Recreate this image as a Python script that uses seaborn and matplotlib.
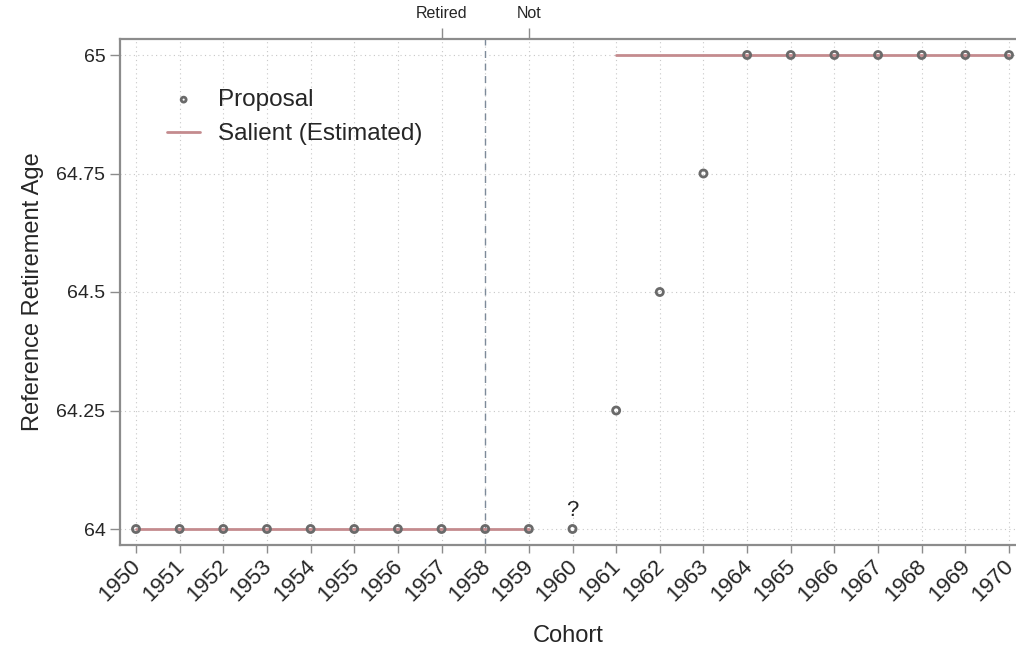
import numpy as np
import pandas as pd
import seaborn as sns
import matplotlib
matplotlib.use('Agg')
import matplotlib.pyplot as plt

# Data.
cohorts = list(range(1950, 1971))
proposal_age = [64] * 11 + [64.25, 64.5, 64.75] + [65] * 7
salient_early_cohorts = list(range(1950, 1960))
salient_early_age = [64] * 10
salient_late_cohorts = list(range(1961, 1971))
salient_late_age = [65] * 10
ytick_values = [64, 64.25, 64.5, 64.75, 65]
ytick_labels = ['64', '64.25', '64.5', '64.75', '65']
top_tick_values = [1957, 1959]
top_tick_labels = ['Retired', 'Not']
cutoff_cohort = 1958

proposal = pd.DataFrame({'cohort': cohorts, 'age': proposal_age})
salient_early = pd.DataFrame({'cohort': salient_early_cohorts, 'age': salient_early_age})
salient_late = pd.DataFrame({'cohort': salient_late_cohorts, 'age': salient_late_age})

sns.set_style('white')
plt.rcParams['font.family'] = ['Liberation Sans', 'DejaVu Sans']

spine_color = '#8c8c8c'
line_color = '#c48b8e'
marker_edge = '#6a6a6a'

fig = plt.figure(figsize=(10.16, 6.52), dpi=100)
ax = fig.add_axes([120 / 1016, 1 - 545 / 652, (1016 - 120) / 1016, (545 - 39) / 652])

ax.grid(True, which='major', color='#c8c8c8', linestyle=(0, (1, 3)), linewidth=0.8)
ax.set_axisbelow(True)

ax.axvline(cutoff_cohort, color='#7d8a99', linestyle=(0, (5, 4)), linewidth=1.0, zorder=1)

sns.lineplot(data=salient_early, x='cohort', y='age', color=line_color, linewidth=2,
             ax=ax, zorder=2, label='Salient (Estimated)')
sns.lineplot(data=salient_late, x='cohort', y='age', color=line_color, linewidth=2,
             ax=ax, zorder=2)
sns.scatterplot(data=proposal, x='cohort', y='age', marker='o', s=26,
                facecolor='none', edgecolor=marker_edge, linewidth=2.0,
                ax=ax, zorder=3, label='Proposal')

ax.annotate('?', xy=(1960, 64), xytext=(0, 6), textcoords='offset points',
            ha='center', va='bottom', fontsize=16)

x_per_px = 1 / 43.65
ax.set_xlim(1950 - 16 * x_per_px, 1970 + 7 * x_per_px)
ax.set_ylim(64 - 16 / 474, 65 + 16 / 474)

ax.set_xticks(cohorts)
ax.set_xticklabels([str(c) for c in cohorts], rotation=45, ha='right',
                   va='center_baseline', rotation_mode='anchor', fontsize=16)
ax.set_yticks(ytick_values)
ax.set_yticklabels(ytick_labels, fontsize=14)
ax.tick_params(axis='both', which='major', width=1, color=spine_color,
               bottom=True, left=True)
ax.tick_params(axis='x', length=6, pad=6)
ax.tick_params(axis='y', length=7.5, pad=3)
ax.set_xlabel('Cohort', fontsize=17, labelpad=14)
ax.set_ylabel('Reference Retirement Age', fontsize=17, labelpad=9)

for side in ['left', 'bottom', 'top']:
    ax.spines[side].set_color(spine_color)
    ax.spines[side].set_linewidth(1.6)
ax.spines['right'].set_visible(False)

top = ax.secondary_xaxis('top')
top.set_xticks(top_tick_values)
top.set_xticklabels(top_tick_labels, fontsize=11.5)
top.tick_params(length=8, width=1, color=spine_color, pad=5)
top.spines['top'].set_visible(False)

handles, labels = ax.get_legend_handles_labels()
order = [labels.index('Proposal'), labels.index('Salient (Estimated)')]
ax.legend([handles[i] for i in order], [labels[i] for i in order],
          loc='upper left', bbox_to_anchor=(47 / 896, 1 - (89 - 39) / 506), frameon=False,
          fontsize=17.5, handlelength=1.37, handletextpad=0.74, labelspacing=0.5,
          markerscale=0.7, borderaxespad=0, borderpad=0)

fig.savefig('out.png', dpi=100)
